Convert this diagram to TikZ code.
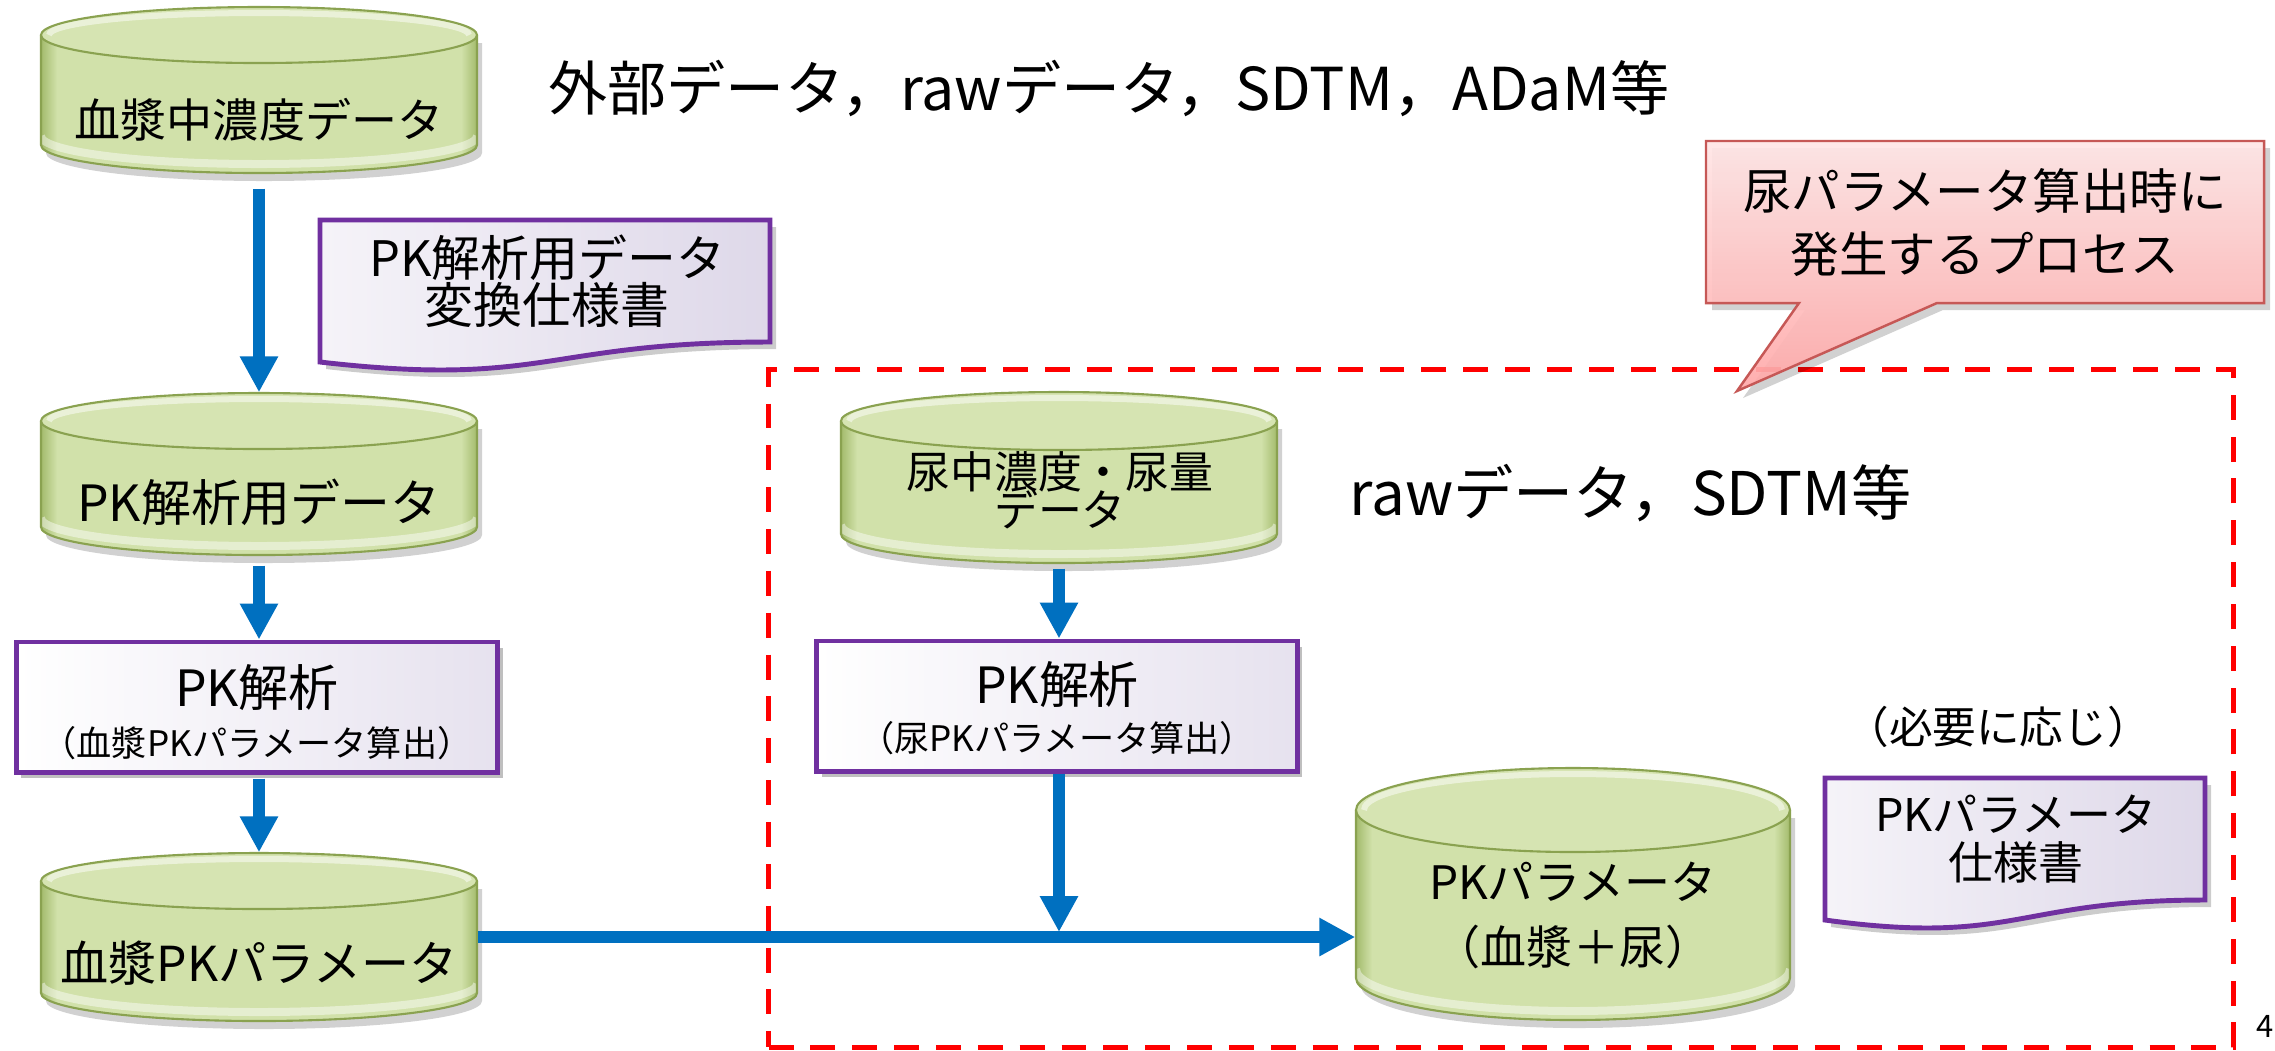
\documentclass[tikz,border=0pt]{standalone}
\usepackage{fontspec}
\setmainfont{Noto Sans CJK JP}
\usetikzlibrary{arrows.meta,shadows,calc}
\definecolor{cyfill}{RGB}{209,225,170}
\definecolor{cyedge}{RGB}{163,187,108}
\definecolor{cyline}{RGB}{138,162,80}
\definecolor{abl}{RGB}{0,112,192}
\definecolor{purp}{RGB}{112,48,160}
\definecolor{lav}{RGB}{222,216,233}
\definecolor{pinktop}{RGB}{255,230,230}
\definecolor{pinkbot}{RGB}{255,168,168}
\definecolor{pinkline}{RGB}{198,88,86}
\newcommand\fsz[2]{\fontsize{#1}{#2}\selectfont\lineskiplimit=-100pt\relax}
\newcommand\mycyl[6]{%
 \pgfmathsetmacro\cyL{#2-#5}%
 \pgfmathsetmacro\cyR{#2+#5}%
 \pgfmathsetmacro\cyT{#3+#6}%
 \pgfmathsetmacro\cyB{#4-#6}%
 \pgfmathsetmacro\cyM{(#3+#4)/2}%
 \pgfmathsetmacro\cyW{2*#5*0.01}%
 \pgfmathsetmacro\cyH{(#4-#3)*0.01}%
 \pgfmathsetmacro\cyXi{#5-8}%
 \pgfmathsetmacro\cyYi{#6-6}%
 \fill[black,opacity=0.18] (\cyL+5,\cyT+8) -- (\cyL+5,\cyB+8) arc[start angle=180,end angle=0,x radius=#5,y radius=#6] -- (\cyR+5,\cyT+8) -- cycle;
 \begin{scope}
  \clip (\cyL,\cyT) -- (\cyL,\cyB) arc[start angle=180,end angle=0,x radius=#5,y radius=#6] -- (\cyR,\cyT) -- cycle;
  \fill[cyfill] (\cyL,#3) rectangle (\cyR,#4);
  \shade[left color=cyedge,right color=cyfill] (\cyL,#3) rectangle (\cyL+16,#4);
  \shade[left color=cyfill,right color=cyedge] (\cyR-16,#3) rectangle (\cyR,#4);
  \draw[white,opacity=.45,line width=0.08cm] (\cyL,\cyB-9) arc[start angle=180,end angle=0,x radius=#5,y radius=#6];
 \end{scope}
 \draw[cyline,line width=0.6pt] (\cyL,\cyT) -- (\cyL,\cyB) arc[start angle=180,end angle=0,x radius=#5,y radius=#6] -- (\cyR,\cyT);
 \filldraw[fill=cyfill!90!white,draw=cyline,line width=0.6pt] (#2,\cyT) ellipse[x radius=#5,y radius=#6];
 \draw[white,opacity=.5,line width=0.06cm] (\cyL+8,\cyT) arc[start angle=180,end angle=360,x radius=\cyXi,y radius=\cyYi];
 \node[inner sep=0,minimum width=\cyW cm,minimum height=\cyH cm] (#1) at (#2,\cyM) {};
}
\begin{document}
\begin{tikzpicture}[x=0.01cm,y=-0.01cm,
  arr/.style={abl,line width=0.12cm,-{Triangle[length=0.36cm,width=0.36cm]}},
  pbox/.style={draw=purp,line width=1.4pt,left color=white,right color=lav!75!white,inner sep=0,
     drop shadow={shadow xshift=0.05cm,shadow yshift=-0.06cm,opacity=0.25,fill=black}},
  docsty/.style={draw=purp,line width=1.4pt,left color=white!70!lav,right color=lav},
  txt/.style={inner sep=0,text=black,align=center}]
\useasboundingbox (0,0) rectangle (2275,1050);
\fill[white] (0,0) rectangle (2275,1050);

% cylinders
\mycyl{c1}{259}{7}{173}{218}{28}
\mycyl{c2}{259}{393}{555}{218}{28}
\mycyl{c3}{259}{853}{1021}{218}{28}
\mycyl{c4}{1059}{392}{563}{218}{29}
\mycyl{c5}{1573}{768}{1020}{217}{42}

\node[txt,font=\fsz{13.1}{15}] (c1t) at (259,120) {血漿中濃度データ};
\node[txt,font=\fsz{14.2}{16}] (c2t) at (259,502) {PK解析用データ};
\node[txt,font=\fsz{13.7}{16}] (c3t) at (259,963) {血漿PKパラメータ};
\node[txt,font=\fsz{12.5}{10.8}] (c4t) at (1060,490) {尿中濃度・尿量\\データ};
\node[txt,font=\fsz{13.1}{18.5}] (c5t) at (1573,915) {PKパラメータ\\（血漿＋尿）};

% process boxes
\node[pbox,minimum width=4.81cm,minimum height=1.30cm] (b1) at (257,707) {};
\node[pbox,minimum width=4.80cm,minimum height=1.30cm] (b2) at (1057,706) {};
\node[txt,font=\fsz{14.2}{16}] (b1t) at (257,688) {PK解析};
\node[txt,font=\fsz{10}{12}] (b1s) at (257,743) {（血漿PKパラメータ算出）};
\node[txt,font=\fsz{14.2}{16}] (b2t) at (1057,685) {PK解析};
\node[txt,font=\fsz{10}{12}] (b2s) at (1057,738) {（尿PKパラメータ算出）};

% documents
\fill[black,opacity=.2] (326,227) -- (776,227) -- (776,349) .. controls (551,349) and (551,395) .. (326,369) -- cycle;
\draw[docsty] (320,220) -- (770,220) -- (770,342) .. controls (545,342) and (545,388) .. (320,362) -- cycle;
\node[txt,font=\fsz{13.9}{13.4}] (d1) at (547,281) {PK解析用データ\\変換仕様書};
\fill[black,opacity=.2] (1831,785) -- (2211,785) -- (2211,907) .. controls (2021,907) and (2021,953) .. (1831,927) -- cycle;
\draw[docsty] (1825,778) -- (2205,778) -- (2205,900) .. controls (2015,900) and (2015,946) .. (1825,920) -- cycle;
\node[txt,font=\fsz{12.8}{13.7}] (d2) at (2016,839) {PKパラメータ\\仕様書};

% arrows
\draw[arr] ([yshift=-0.15cm]c1.south) -- (c2.north);
\draw[arr] ([yshift=-0.10cm]c2.south) -- (c2.south |- b1.north);
\coordinate (a3s) at ([yshift=-0.04cm]b1.south);
\draw[arr] (a3s -| c3.north) -- (c3.north);
\draw[arr] ([yshift=-0.05cm]c4.south) -- (c4.south |- b2.north);
\draw[arr] (c3.east) -- (c3.east -| c5.west);
\coordinate (j) at ($(c4.south |- c3.east)+(0,-5)$);
\draw[arr] (b2.south -| c4.south) -- (j);

% red dashed region
\node[draw=red,line width=1.42pt,dash pattern=on 7.1pt off 4.8pt,minimum width=14.64cm,minimum height=6.77cm,inner sep=0] (rbox) at (1501,708.5) {};

% callout
\fill[black,opacity=.18] (1712,148) -- (2270,148) -- (2270,310) -- (1943,310) -- (1743,398) -- (1805,310) -- (1712,310) -- cycle;
\draw[pinkline,line width=0.7pt,top color=pinktop,bottom color=pinkbot,fill opacity=0.92] (1706,141) -- (2264,141) -- (2264,303) -- (1937,303) -- (1737,391) -- (1799,303) -- (1706,303) -- cycle;
\node[txt,font=\fsz{13.8}{17.9}] (co) at (1985,223) {尿パラメータ算出時に\\発生するプロセス};

% free labels
\node[txt,anchor=west,font=\fsz{16.8}{20}] (top) at (548,88) {外部データ，rawデータ，SDTM，ADaM等};
\node[txt,anchor=west,font=\fsz{17.1}{20}] (raw) at (1349,493) {rawデータ，SDTM等};
\node[txt,font=\fsz{12.4}{14}] (need) at (1998,727) {（必要に応じ）};
\node[txt,font=\fsz{8.8}{10}] (pg) at (2265,1026) {4};
\end{tikzpicture}
\end{document}
